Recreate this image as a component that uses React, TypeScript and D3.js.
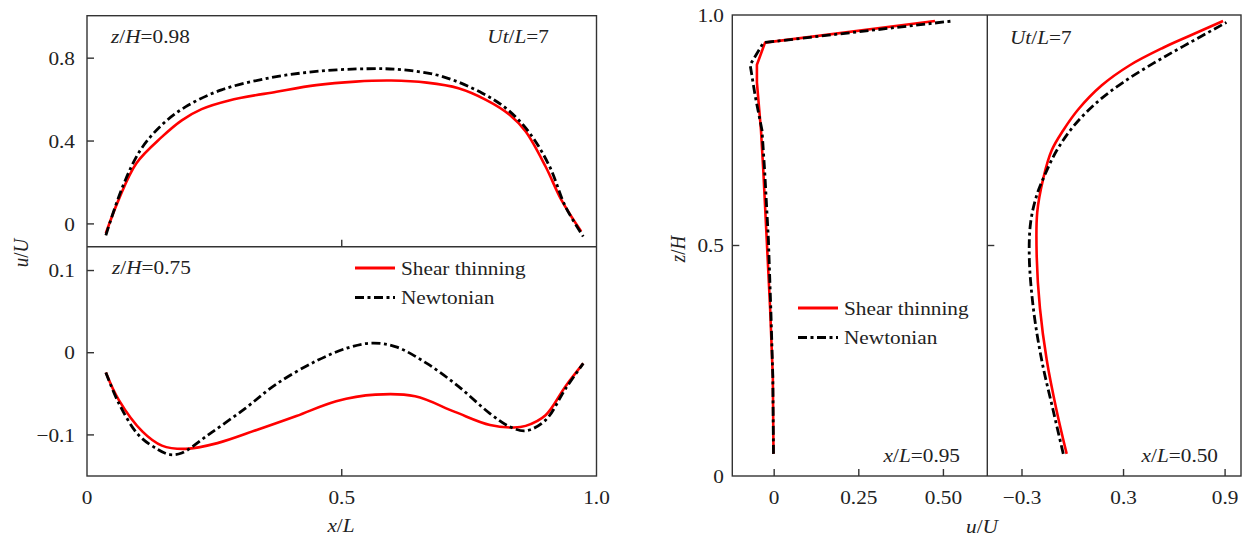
import * as d3 from 'd3'

const FONT = '"Liberation Serif", "Times New Roman", serif'
const FS = 19
const SX = 1.12
const INK = '#222'
const RED = '#ff0000'
const DASH = '9,3.5,3,3.5'

// left top panel, z/H = 0.98
const topShearX = [0.037, 0.062, 0.097, 0.147, 0.186, 0.225, 0.279, 0.372, 0.45, 0.527, 0.597, 0.667, 0.729, 0.783, 0.83, 0.861, 0.9, 0.931, 0.97]
const topShearU = [-0.045, 0.116, 0.293, 0.42, 0.5, 0.554, 0.596, 0.638, 0.67, 0.687, 0.692, 0.682, 0.655, 0.599, 0.526, 0.446, 0.277, 0.116, -0.037]
const topNewtX = [0.037, 0.07, 0.105, 0.147, 0.194, 0.264, 0.357, 0.45, 0.551, 0.621, 0.698, 0.776, 0.826, 0.869, 0.908, 0.939, 0.974]
const topNewtU = [-0.055, 0.18, 0.357, 0.478, 0.566, 0.647, 0.704, 0.736, 0.749, 0.744, 0.711, 0.631, 0.551, 0.438, 0.277, 0.084, -0.061]

// left bottom panel, z/H = 0.75
const botShearX = [0.037, 0.062, 0.109, 0.147, 0.194, 0.256, 0.333, 0.411, 0.489, 0.566, 0.644, 0.722, 0.791, 0.838, 0.861, 0.9, 0.939, 0.974]
const botShearU = [-0.024, -0.057, -0.096, -0.113, -0.117, -0.11, -0.094, -0.077, -0.059, -0.051, -0.053, -0.072, -0.088, -0.091, -0.089, -0.076, -0.041, -0.013]
const botNewtX = [0.037, 0.062, 0.101, 0.14, 0.163, 0.186, 0.24, 0.31, 0.372, 0.45, 0.512, 0.558, 0.605, 0.667, 0.729, 0.791, 0.83, 0.861, 0.9, 0.939, 0.974]
const botNewtU = [-0.024, -0.061, -0.1, -0.118, -0.124, -0.122, -0.099, -0.068, -0.038, -0.01, 0.006, 0.0116, 0.0075, -0.013, -0.041, -0.074, -0.09, -0.095, -0.082, -0.044, -0.013]

// right panel, x/L = 0.95
const r1ShearZ = [0.048, 0.215, 0.364, 0.513, 0.661, 0.75, 0.854, 0.892, 0.94, 0.987]
const r1ShearU = [-0.002, -0.004, -0.012, -0.022, -0.032, -0.039, -0.051, -0.051, -0.027, 0.475]
const r1NewtZ = [0.048, 0.215, 0.364, 0.513, 0.661, 0.75, 0.824, 0.892, 0.94, 0.987]
const r1NewtU = [-0.002, -0.004, -0.01, -0.017, -0.028, -0.036, -0.056, -0.071, -0.032, 0.527]

// right panel, x/L = 0.50
const r2ShearZ = [0.048, 0.141, 0.252, 0.364, 0.475, 0.572, 0.646, 0.706, 0.75, 0.795, 0.847, 0.891, 0.929, 0.955, 0.987]
const r2ShearU = [-0.036, -0.095, -0.154, -0.194, -0.213, -0.21, -0.174, -0.125, -0.056, 0.032, 0.17, 0.337, 0.534, 0.691, 0.888]
const r2NewtZ = [0.048, 0.141, 0.252, 0.364, 0.475, 0.55, 0.609, 0.654, 0.706, 0.758, 0.81, 0.854, 0.895, 0.932, 0.984]
const r2NewtU = [-0.056, -0.115, -0.184, -0.233, -0.257, -0.249, -0.213, -0.164, -0.095, 0.003, 0.141, 0.298, 0.475, 0.652, 0.908]

const topTicks = [0, 0.4, 0.8]
const botTicks = [-0.1, 0, 0.1]
const xlTicks = [0, 0.5, 1.0]
const r1Ticks = [0, 0.25, 0.5]
const r2Ticks = [-0.3, 0.3, 0.9]
const zTicks = [0, 0.5, 1.0]

const fmt = (v: number, d: number) => (v < 0 ? '\u2212' : '') + (v === 0 ? '0' : Math.abs(v).toFixed(d))

type Part = { t: string; i?: boolean }

function Txt({ x, y, parts, anchor = 'start', rot = false }: { x: number; y: number; parts: Part[]; anchor?: string; rot?: boolean }) {
  const tf = rot ? `translate(${x},${y}) rotate(-90) scale(1,${SX})` : `translate(${x},${y}) scale(${SX},1)`
  return (
    <text transform={tf} textAnchor={anchor} dy="0.35em" fontFamily={FONT} fontSize={FS} fill={INK}>
      {parts.map((p, k) => (
        <tspan key={k} fontStyle={p.i ? 'italic' : 'normal'}>{p.t}</tspan>
      ))}
    </text>
  )
}

const plain = (s: string): Part[] => [{ t: s }]

export default function App() {
  const L = { x0: 87, x1: 596.5, top: 15.7, mid: 246.7, bot: 476 }
  const R = { x0: 732.3, mid: 987.3, x1: 1241, top: 15, bot: 476 }

  const xL = d3.scaleLinear().domain([0, 1]).range([L.x0, L.x1])
  const yTop = d3.scaleLinear().domain([-0.11, 1.005]).range([L.mid, L.top])
  const yBot = d3.scaleLinear().domain([-0.15, 0.129]).range([L.bot, L.mid])
  const xR1 = d3.scaleLinear().domain([-0.1237, 0.6296]).range([R.x0, R.mid])
  const xR2 = d3.scaleLinear().domain([-0.505, 0.994]).range([R.mid, R.x1])
  const zR = d3.scaleLinear().domain([0, 1]).range([R.bot, R.top])

  const smooth = d3.curveCatmullRom.alpha(0.5)
  const lineXY = (xs: number[], ys: number[], sx: d3.ScaleLinear<number, number>, sy: d3.ScaleLinear<number, number>, curve: d3.CurveFactory) =>
    d3.line<number>().x((_, i) => sx(xs[i])).y((_, i) => sy(ys[i])).curve(curve)(xs) || ''

  const paths = [
    { d: lineXY(topShearX, topShearU, xL, yTop, smooth), k: 's' },
    { d: lineXY(topNewtX, topNewtU, xL, yTop, smooth), k: 'n' },
    { d: lineXY(botShearX, botShearU, xL, yBot, smooth), k: 's' },
    { d: lineXY(botNewtX, botNewtU, xL, yBot, smooth), k: 'n' },
    { d: lineXY(r1ShearU, r1ShearZ, xR1, zR, d3.curveLinear), k: 's' },
    { d: lineXY(r1NewtU, r1NewtZ, xR1, zR, d3.curveLinear), k: 'n' },
    { d: lineXY(r2ShearU, r2ShearZ, xR2, zR, smooth), k: 's' },
    { d: lineXY(r2NewtU, r2NewtZ, xR2, zR, smooth), k: 'n' },
  ]

  const TK = 7
  const frame = { stroke: '#333', strokeWidth: 1.4, fill: 'none' }

  const legend = (x: number, y: number, gap: number) => (
    <g>
      <line x1={x} x2={x + 40} y1={y} y2={y} stroke={RED} strokeWidth={3} />
      <line x1={x} x2={x + 40} y1={y + gap} y2={y + gap} stroke="#000" strokeWidth={3} strokeDasharray={DASH} />
      <Txt x={x + 46} y={y} parts={plain('Shear thinning')} />
      <Txt x={x + 46} y={y + gap} parts={plain('Newtonian')} />
    </g>
  )

  return (
    <svg width={1246} height={537} style={{ position: 'absolute', left: 0, top: 0, background: '#fff' }}>
      {/* curves: red first, dash-dot black on top */}
      {paths.filter(p => p.k === 's').map((p, i) => (
        <path key={'s' + i} d={p.d} fill="none" stroke={RED} strokeWidth={2.6} strokeLinejoin="round" />
      ))}
      {paths.filter(p => p.k === 'n').map((p, i) => (
        <path key={'n' + i} d={p.d} fill="none" stroke="#000" strokeWidth={2.8} strokeDasharray={DASH} />
      ))}

      {/* left frames */}
      <rect x={L.x0} y={L.top} width={L.x1 - L.x0} height={L.bot - L.top} {...frame} />
      <line x1={L.x0} x2={L.x1} y1={L.mid} y2={L.mid} {...frame} />
      {topTicks.map(v => (
        <g key={'tt' + v}>
          <line x1={L.x0} x2={L.x0 + TK} y1={yTop(v)} y2={yTop(v)} {...frame} />
          <Txt x={75} y={yTop(v)} anchor="end" parts={plain(fmt(v, 1))} />
        </g>
      ))}
      {botTicks.map(v => (
        <g key={'bt' + v}>
          <line x1={L.x0} x2={L.x0 + TK} y1={yBot(v)} y2={yBot(v)} {...frame} />
          <Txt x={75} y={yBot(v)} anchor="end" parts={plain(fmt(v, 1))} />
        </g>
      ))}
      {xlTicks.map(v => (
        <g key={'xl' + v}>
          {v > 0 && v < 1 && (
            <>
              <line x1={xL(v)} x2={xL(v)} y1={L.bot} y2={L.bot - TK} {...frame} />
              <line x1={xL(v)} x2={xL(v)} y1={L.mid} y2={L.mid - TK} {...frame} />
            </>
          )}
          <Txt x={xL(v)} y={497} anchor="middle" parts={plain(fmt(v, 1))} />
        </g>
      ))}

      {/* right frames */}
      <rect x={R.x0} y={R.top} width={R.x1 - R.x0} height={R.bot - R.top} {...frame} />
      <line x1={R.mid} x2={R.mid} y1={R.top} y2={R.bot} {...frame} />
      {zTicks.map(v => (
        <g key={'z' + v}>
          {v > 0 && v < 1 && (
            <>
              <line x1={R.x0} x2={R.x0 + TK} y1={zR(v)} y2={zR(v)} {...frame} />
              <line x1={R.mid} x2={R.mid + TK} y1={zR(v)} y2={zR(v)} {...frame} />
            </>
          )}
          <Txt x={724} y={zR(v)} anchor="end" parts={plain(fmt(v, 1))} />
        </g>
      ))}
      {r1Ticks.map(v => (
        <g key={'r1' + v}>
          <line x1={xR1(v)} x2={xR1(v)} y1={R.bot} y2={R.bot - TK} {...frame} />
          <Txt x={xR1(v)} y={497} anchor="middle" parts={plain(fmt(v, 2))} />
        </g>
      ))}
      {r2Ticks.map(v => (
        <g key={'r2' + v}>
          <line x1={xR2(v)} x2={xR2(v)} y1={R.bot} y2={R.bot - TK} {...frame} />
          <Txt x={xR2(v)} y={497} anchor="middle" parts={plain(fmt(v, 1))} />
        </g>
      ))}

      {/* annotations */}
      <Txt x={111} y={36} parts={[{ t: 'z', i: true }, { t: '/' }, { t: 'H', i: true }, { t: '=0.98' }]} />
      <Txt x={549} y={36} anchor="end" parts={[{ t: 'Ut', i: true }, { t: '/' }, { t: 'L', i: true }, { t: '=7' }]} />
      <Txt x={112} y={267} parts={[{ t: 'z', i: true }, { t: '/' }, { t: 'H', i: true }, { t: '=0.75' }]} />
      <Txt x={1010} y={37} parts={[{ t: 'Ut', i: true }, { t: '/' }, { t: 'L', i: true }, { t: '=7' }]} />
      <Txt x={960} y={455} anchor="end" parts={[{ t: 'x', i: true }, { t: '/' }, { t: 'L', i: true }, { t: '=0.95' }]} />
      <Txt x={1218} y={455} anchor="end" parts={[{ t: 'x', i: true }, { t: '/' }, { t: 'L', i: true }, { t: '=0.50' }]} />

      {legend(355, 268, 29.5)}
      {legend(798, 308, 29.5)}

      {/* axis titles */}
      <Txt x={341} y={525} anchor="middle" parts={[{ t: 'x', i: true }, { t: '/' }, { t: 'L', i: true }]} />
      <Txt x={982} y={526} anchor="middle" parts={[{ t: 'u', i: true }, { t: '/' }, { t: 'U', i: true }]} />
      <Txt x={21} y={253} anchor="middle" rot parts={[{ t: 'u', i: true }, { t: '/' }, { t: 'U', i: true }]} />
      <Txt x={678} y={249} anchor="middle" rot parts={[{ t: 'z', i: true }, { t: '/' }, { t: 'H', i: true }]} />
    </svg>
  )
}
